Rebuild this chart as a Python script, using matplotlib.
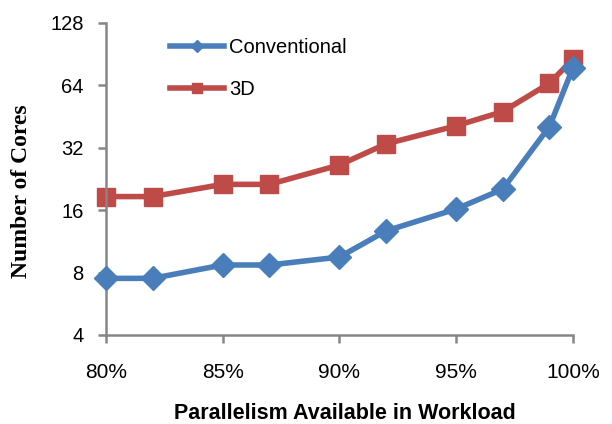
import matplotlib
matplotlib.use("Agg")
import matplotlib.pyplot as plt
from matplotlib.ticker import FixedLocator, FixedFormatter, NullLocator

x_pct = [80, 82, 85, 87, 90, 92, 95, 97, 99, 100]
conventional = [7.5, 7.5, 8.7, 8.7, 9.5, 12.7, 16.2, 20.2, 40.5, 77.5]
cores_3d = [18.6, 18.6, 21.3, 21.3, 26.4, 33.4, 40.8, 47.8, 65.5, 85.5]
x_ticks = [80, 85, 90, 95, 100]
x_tick_labels = ["80%", "85%", "90%", "95%", "100%"]
y_ticks = [4, 8, 16, 32, 64, 128]
y_tick_labels = ["4", "8", "16", "32", "64", "128"]

blue = "#4A7EBB"
red = "#BE4B48"
gray = "#868686"

fig = plt.figure(figsize=(6.12, 4.24), dpi=100)
ax = fig.add_axes([0.173, 0.21, 0.763, 0.736])

ax.plot(x_pct, conventional, color=blue, lw=4, marker="D", markersize=12,
        label="Conventional", zorder=3, clip_on=False)
ax.plot(x_pct, cores_3d, color=red, lw=4, marker="s", markersize=13.5,
        label="3D", zorder=2, clip_on=False)

ax.set_yscale("log", base=2)
ax.set_ylim(4, 128)
ax.set_xlim(80, 100)
ax.yaxis.set_major_locator(FixedLocator(y_ticks))
ax.yaxis.set_major_formatter(FixedFormatter(y_tick_labels))
ax.yaxis.set_minor_locator(NullLocator())
ax.set_xticks(x_ticks)
ax.set_xticklabels(x_tick_labels)

for s in ["top", "right"]:
    ax.spines[s].set_visible(False)
for s in ["left", "bottom"]:
    ax.spines[s].set_color(gray)
    ax.spines[s].set_linewidth(1.8)
ax.tick_params(axis="both", direction="out", length=6, width=1.8, color=gray,
               labelcolor="#000000")
ax.tick_params(axis="x", pad=14.5, labelsize=15)
ax.tick_params(axis="y", pad=10, labelsize=14.5)
for lab in ax.get_xticklabels() + ax.get_yticklabels():
    lab.set_fontfamily("Liberation Sans")

ax.set_xlabel("Parallelism Available in Workload", fontsize=15.5, fontweight="bold",
              fontfamily="Liberation Sans")
ax.xaxis.label.set_va("baseline")
ax.xaxis.set_label_coords(0.512, -0.270)
ax.set_ylabel("Number of Cores", fontsize=17, fontweight="bold",
              fontfamily="Liberation Serif")
ax.yaxis.label.set_va("center")
ax.yaxis.set_label_coords(-0.18, 0.46)

leg = ax.legend(loc="upper left", bbox_to_anchor=(0.137, 0.952), frameon=False,
                handlelength=2.7, handletextpad=0.26, labelspacing=1.15,
                borderpad=0, borderaxespad=0, markerscale=0.5,
                prop={"family": "Liberation Sans", "size": 14.5})

fig.savefig("out.png", dpi=100)
